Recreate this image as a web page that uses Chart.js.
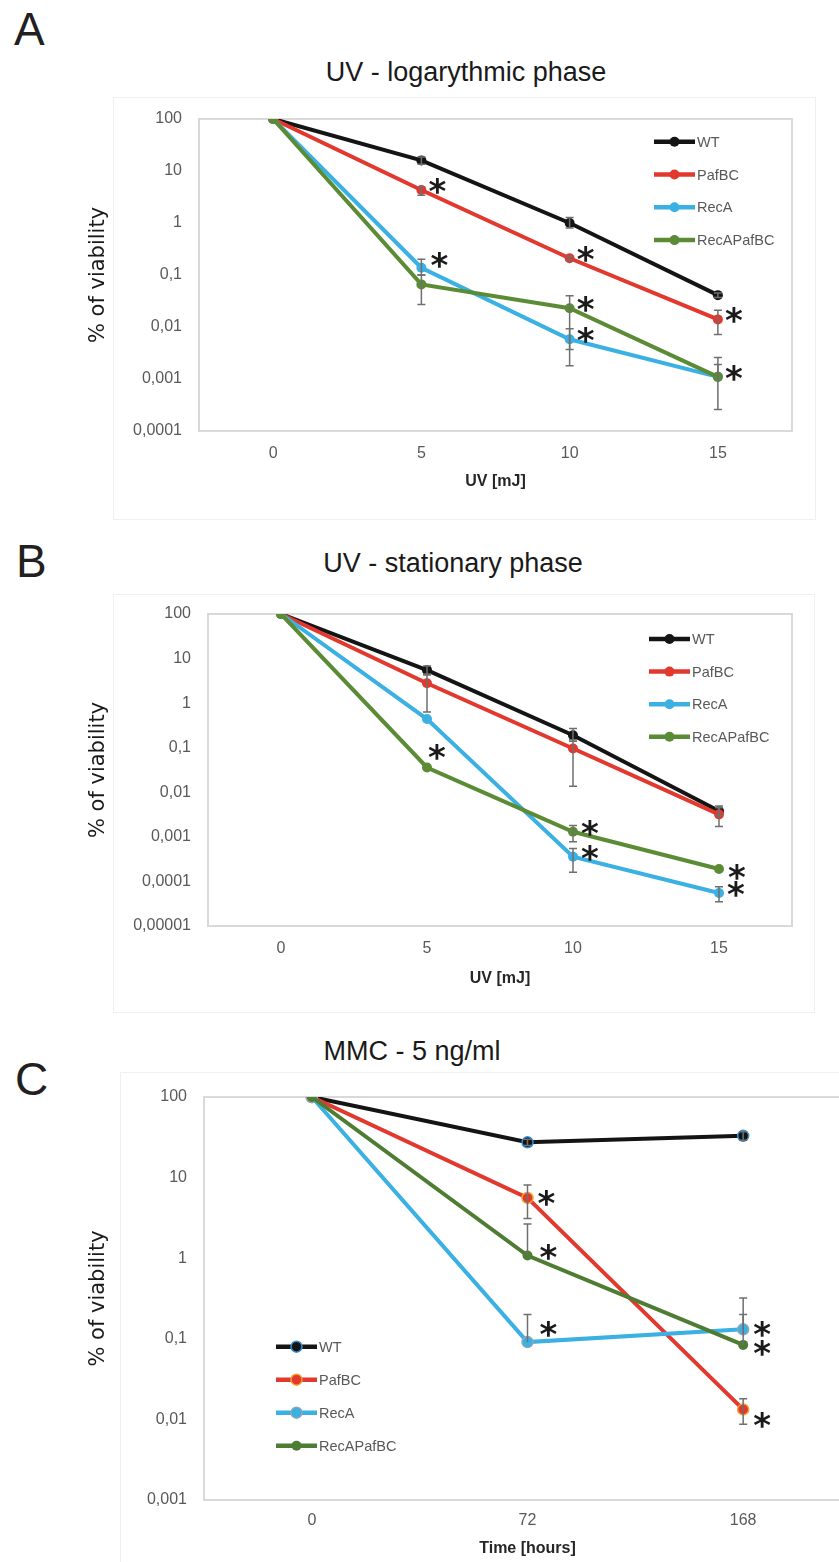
<!DOCTYPE html>
<html>
<head>
<meta charset="utf-8">
<script src="https://cdn.jsdelivr.net/npm/chart.js@4.4.1/dist/chart.umd.min.js"></script>
<style>
body { margin: 0; background: #fff; width: 839px; height: 1562px; overflow: hidden; position: relative;
       font-family: "Liberation Sans", Arial, sans-serif; }
.box { position: absolute; border: 1px solid #f0f0f0; }
.letter { position: absolute; font-size: 46px; line-height: 46px; color: #231f20; }
.title { position: absolute; font-size: 27px; line-height: 27px; color: #1a1a1a; white-space: nowrap; transform: translateX(-50%); }
canvas { position: absolute; left: 0; }
</style>
</head>
<body>
<div class="box" style="left:113px;top:97px;width:701px;height:421px"></div>
<div class="box" style="left:113px;top:594px;width:700px;height:417px"></div>
<div class="box" style="left:120px;top:1072px;width:760px;height:520px"></div>

<div class="letter" style="left:14px;top:6px">A</div>
<div class="letter" style="left:16px;top:538px">B</div>
<div class="letter" style="left:15px;top:1056px">C</div>

<div class="title" style="left:466px;top:59px">UV - logarythmic phase</div>
<div class="title" style="left:453px;top:550px">UV - stationary phase</div>
<div class="title" style="left:412px;top:1038px">MMC - 5 ng/ml</div>

<canvas id="chartA" width="839" height="430" style="top:90px"></canvas>
<canvas id="chartB" width="839" height="430" style="top:580px"></canvas>
<canvas id="chartC" width="880" height="492" style="top:1070px"></canvas>

<script>
// ---- data ----
const seriesNames = ['WT', 'PafBC', 'RecA', 'RecAPafBC'];

// A : UV, logarithmic phase
const doseA = ['0', '5', '10', '15'];
const wtA = [100, 16, 1.0, 0.041];
const pafA = [100, 4.3, 0.21, 0.014];
const recA_A = [100, 0.138, 0.0058, 0.0011];
const recPafA = [100, 0.066, 0.023, 0.0011];
const wtA_lo = [null, 13.5, 0.8, 0.037];
const wtA_hi = [null, 18.5, 1.27, 0.045];
const pafA_lo = [null, 3.4, 0.19, 0.0072];
const pafA_hi = [null, 5.0, 0.23, 0.021];
const recA_A_lo = [null, 0.1, 0.0018, null];
const recA_A_hi = [null, 0.2, 0.0093, 0.0019];
const recPafA_lo = [null, 0.027, 0.0037, 0.00026];
const recPafA_hi = [null, 0.1, 0.04, 0.0026];
const ticksA = [100, 10, 1, 0.1, 0.01, 0.001, 0.0001];
const starsA = [[1, 1], [2, 1], [1, 2], [3, 2], [2, 2], [1, 3], [3, 3]];

// B : UV, stationary phase
const doseB = ['0', '5', '10', '15'];
const wtB = [100, 5.5, 0.19, 0.0038];
const pafB = [100, 2.8, 0.096, 0.0032];
const recB = [100, 0.44, 0.00036, 0.000055];
const recPafB = [100, 0.036, 0.0013, 0.00019];
const wtB_lo = [null, 4.3, 0.14, 0.003];
const wtB_hi = [null, 6.8, 0.27, 0.0049];
const pafB_lo = [null, 0.63, 0.0137, 0.0017];
const pafB_hi = [null, 4.5, 0.15, 0.0045];
const recB_lo = [null, null, 0.00016, 0.000035];
const recB_hi = [null, null, 0.00055, 0.000076];
const recPafB_lo = [null, null, 0.00078, null];
const recPafB_hi = [null, null, 0.0018, null];
const ticksB = [100, 10, 1, 0.1, 0.01, 0.001, 0.0001, 0.00001];
const starsB = [[3, 1], [3, 2], [2, 2], [3, 3], [2, 3]];

// C : MMC 5 ng/ml
const hoursC = ['0', '72', '168'];
const wtC = [100, 27.4, 33];
const pafC = [100, 5.6, 0.0133];
const recC = [100, 0.091, 0.131];
const recPafC = [100, 1.08, 0.084];
const wtC_lo = [null, 25, 29];
const wtC_hi = [null, 30, 37];
const pafC_lo = [null, 3.1, 0.0087];
const pafC_hi = [null, 8.1, 0.018];
const recC_lo = [null, null, null];
const recC_hi = [null, 0.2, 0.32];
const recPafC_lo = [null, null, null];
const recPafC_hi = [null, 2.65, 0.2];
const ticksC = [100, 10, 1, 0.1, 0.01, 0.001];
const starsC = [[1, 1], [3, 1], [2, 1], [2, 2], [3, 2], [1, 2]];

Chart.defaults.font.family = '"Liberation Sans", Arial, sans-serif';

// plot area border
const frame = {
    id: 'frame',
    beforeDatasetsDraw(chart) {
        const a = chart.chartArea, ctx = chart.ctx;
        ctx.save();
        ctx.strokeStyle = '#d9d9d9';
        ctx.lineWidth = 2;
        ctx.strokeRect(a.left, a.top, a.right - a.left, a.bottom - a.top);
        ctx.restore();
    }
};

// error bars from errLo / errHi of each dataset
const errorBars = {
    id: 'errorBars',
    afterDatasetsDraw(chart) {
        const ctx = chart.ctx, y = chart.scales.y;
        ctx.save();
        ctx.strokeStyle = '#6f6f6f';
        ctx.lineWidth = 1.5;
        chart.data.datasets.forEach((ds, i) => {
            const meta = chart.getDatasetMeta(i);
            ds.data.forEach((v, j) => {
                const lo = ds.errLo[j], hi = ds.errHi[j];
                if (lo == null && hi == null) return;
                const px = meta.data[j].x;
                const yt = y.getPixelForValue(hi ?? v);
                const yb = y.getPixelForValue(lo ?? v);
                ctx.beginPath();
                ctx.moveTo(px, yt); ctx.lineTo(px, yb);
                if (hi != null) { ctx.moveTo(px - 4, yt); ctx.lineTo(px + 4, yt); }
                if (lo != null) { ctx.moveTo(px - 4, yb); ctx.lineTo(px + 4, yb); }
                ctx.stroke();
            });
        });
        ctx.restore();
    }
};

// significance asterisks next to points
const stars = {
    id: 'stars',
    afterDatasetsDraw(chart, args, opts) {
        const ctx = chart.ctx;
        ctx.save();
        ctx.fillStyle = '#1a1a1a';
        ctx.font = 'bold 34px "DejaVu Sans"';
        ctx.textAlign = 'center';
        ctx.textBaseline = 'alphabetic';
        const m = ctx.measureText('*');
        const shift = (m.actualBoundingBoxAscent - m.actualBoundingBoxDescent) / 2;
        opts.marks.forEach(([d, j]) => {
            const pt = chart.getDatasetMeta(d).data[j];
            const n = (opts.nudge && opts.nudge[d + ',' + j]) || [0, 0];
            ctx.fillText('*', pt.x + opts.dx + n[0], pt.y + opts.dy + n[1] + shift);
        });
        ctx.restore();
    }
};

// legend drawn as line + marker + label
const legendBox = {
    id: 'legendBox',
    afterDraw(chart, args, opts) {
        const ctx = chart.ctx;
        ctx.save();
        ctx.font = '14.5px "Liberation Sans", Arial, sans-serif';
        ctx.textBaseline = 'middle';
        chart.data.datasets.forEach((ds, i) => {
            const y = opts.y + i * opts.gap;
            ctx.strokeStyle = ds.borderColor;
            ctx.lineWidth = 4.5;
            ctx.beginPath();
            ctx.moveTo(opts.x, y); ctx.lineTo(opts.x + 41, y);
            ctx.stroke();
            ctx.beginPath();
            ctx.arc(opts.x + 20.5, y, ds.pointRadius, 0, Math.PI * 2);
            ctx.fillStyle = ds.pointBackgroundColor;
            ctx.fill();
            if (ds.pointBorderWidth) {
                ctx.lineWidth = ds.pointBorderWidth;
                ctx.strokeStyle = ds.pointBorderColor;
                ctx.stroke();
            }
            ctx.fillStyle = '#595959';
            ctx.fillText(ds.label, opts.x + 43, y + 1);
        });
        ctx.restore();
    }
};

function line(label, data, lo, hi, color, marker, order, radius) {
    return {
        label: label, data: data, errLo: lo, errHi: hi,
        borderColor: color, borderWidth: 4,
        pointBackgroundColor: color,
        pointBorderColor: marker || color,
        pointBorderWidth: marker ? 1.5 : 0,
        pointRadius: radius, pointHoverRadius: radius,
        tension: 0, order: order
    };
}

function makeChart(id, cfg) {
    return new Chart(document.getElementById(id), {
        type: 'line',
        data: { labels: cfg.labels, datasets: cfg.datasets },
        options: {
            responsive: false,
            animation: false,
            layout: { padding: { top: cfg.padTop, right: cfg.padRight, left: 0, bottom: 0 } },
            scales: {
                x: {
                    offset: true,
                    grid: { display: false, drawTicks: false },
                    border: { display: false },
                    afterFit: s => { s.height = cfg.xHeight; },
                    ticks: { color: '#595959', font: { size: 16 }, padding: cfg.xTickPad },
                    title: {
                        display: true, text: cfg.xTitle, color: '#262626',
                        font: { size: 16, weight: 'bold' },
                        padding: { top: 0, bottom: cfg.xTitlePad }
                    }
                },
                y: {
                    type: 'logarithmic',
                    min: cfg.yTicks[cfg.yTicks.length - 1],
                    max: cfg.yTicks[0],
                    grid: { display: false, drawTicks: false },
                    border: { display: false },
                    afterBuildTicks: s => { s.ticks = cfg.yTicks.map(v => ({ value: v })); },
                    afterFit: s => { s.width = cfg.yWidth; },
                    ticks: {
                        color: '#595959', font: { size: 16 }, padding: cfg.yTickPad, autoSkip: false,
                        callback: v => String(v).replace('.', ',')
                    },
                    title: {
                        display: true, text: '% of viability', color: '#1a1a1a',
                        font: { family: '"DejaVu Sans"', size: 21 },
                        padding: { top: 86, bottom: 0 }
                    }
                }
            },
            plugins: {
                legend: { display: false },
                tooltip: { enabled: false },
                stars: { marks: cfg.stars, dx: cfg.starDx, dy: cfg.starDy, nudge: cfg.nudge },
                legendBox: cfg.legend
            }
        },
        plugins: [frame, errorBars, stars, legendBox]
    });
}

const black = '#141414', red = '#e2382e', blue = '#3bb0e3', green = '#5b8c35';

window.onload = () => {
    makeChart('chartA', {
        labels: doseA,
        datasets: [
            line(seriesNames[0], wtA, wtA_lo, wtA_hi, black, null, 4, 5),
            line(seriesNames[1], pafA, pafA_lo, pafA_hi, red, null, 3, 5),
            line(seriesNames[2], recA_A, recA_A_lo, recA_A_hi, blue, null, 2, 5),
            line(seriesNames[3], recPafA, recPafA_lo, recPafA_hi, green, null, 1, 5)
        ],
        yTicks: ticksA, padTop: 29, padRight: 47, xHeight: 89, yWidth: 199,
        xTickPad: 13, xTitlePad: 29, yTickPad: 17, xTitle: 'UV [mJ]',
        stars: starsA, starDx: 16, starDy: -4, nudge: { '2,1': [2, -4] },
        legend: { x: 654, y: 51.7, gap: 32.8 }
    });

    makeChart('chartB', {
        labels: doseB,
        datasets: [
            line(seriesNames[0], wtB, wtB_lo, wtB_hi, black, null, 4, 5),
            line(seriesNames[1], pafB, pafB_lo, pafB_hi, red, null, 3, 5),
            line(seriesNames[2], recB, recB_lo, recB_hi, blue, null, 2, 5),
            line(seriesNames[3], recPafB, recPafB_lo, recPafB_hi, green, null, 1, 5)
        ],
        yTicks: ticksB, padTop: 34, padRight: 47, xHeight: 84, yWidth: 208,
        xTickPad: 13, xTitlePad: 22, yTickPad: 17, xTitle: 'UV [mJ]',
        stars: starsB, starDx: 17, starDy: -4, nudge: { '3,1': [-7, -11], '3,3': [1, 7] },
        legend: { x: 649, y: 59, gap: 32.6 }
    });

    makeChart('chartC', {
        labels: hoursC,
        datasets: [
            line(seriesNames[0], wtC, wtC_lo, wtC_hi, black, '#3a8fd0', 4, 5.5),
            line(seriesNames[1], pafC, pafC_lo, pafC_hi, red, '#f0a12f', 3, 5.5),
            line(seriesNames[2], recC, recC_lo, recC_hi, blue, '#8fa7b8', 2, 5.5),
            line(seriesNames[3], recPafC, recPafC_lo, recPafC_hi, '#4f7c33', null, 1, 5)
        ],
        yTicks: ticksC, padTop: 27, padRight: 29, xHeight: 62, yWidth: 204,
        xTickPad: 11, xTitlePad: 4, yTickPad: 17, xTitle: 'Time [hours]',
        stars: starsC, starDx: 19, starDy: 0, nudge: { '2,1': [2, -13], '3,1': [2, -4], '1,2': [0, 11], '3,2': [0, 3] },
        legend: { x: 276, y: 276.7, gap: 33 }
    });
};
</script>
</body>
</html>
